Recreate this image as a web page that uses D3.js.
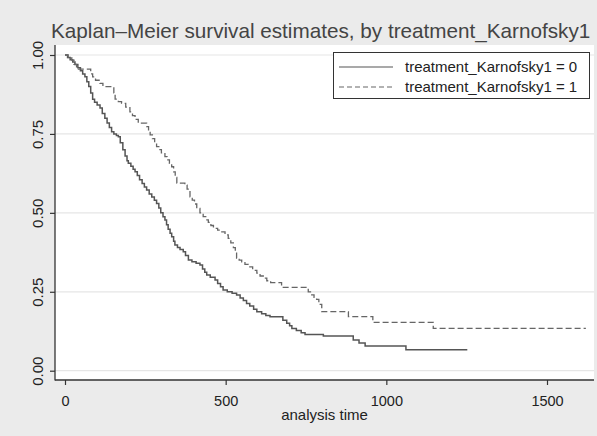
<!DOCTYPE html>
<html><head><meta charset="utf-8">
<script src="https://cdn.jsdelivr.net/npm/d3@7"></script>
<style>
html,body{margin:0;padding:0;background:#ebebeb;}
svg{display:block;}
text{font-family:"Liberation Sans",Arial,sans-serif;}
</style></head>
<body>
<svg id="chart" width="597" height="436"></svg>
<script>
const titleText = "Kaplan\u2013Meier survival estimates, by treatment_Karnofsky1";
const xLabel = "analysis time";
const seriesNames = ["treatment_Karnofsky1 = 0", "treatment_Karnofsky1 = 1"];
const xTicks = [0, 500, 1000, 1500];
const yTicks = [0, 0.25, 0.5, 0.75, 1];

// group 0 (solid): step times and survival after each step
const g0Times = [0,8,16,24,31,40,48,55,62,68,74,80,86,92,100,109,116,124,131,138,145,152,160,166,172,180,187,193,197,205,212,218,225,232,240,247,254,262,270,278,285,292,298,305,311,316,321,327,332,338,342,350,358,368,375,384,395,408,420,428,435,441,452,467,475,484,492,505,520,534,545,555,565,575,587,597,612,625,638,678,690,699,706,720,735,747,804,897,915,934,1061];
const g0Surv  = [1.000,0.992,0.985,0.978,0.970,0.960,0.950,0.940,0.931,0.915,0.900,0.880,0.860,0.850,0.842,0.832,0.815,0.800,0.785,0.770,0.757,0.750,0.745,0.741,0.722,0.700,0.680,0.665,0.657,0.648,0.638,0.630,0.618,0.605,0.593,0.582,0.572,0.560,0.550,0.540,0.530,0.515,0.500,0.488,0.477,0.462,0.448,0.435,0.424,0.410,0.398,0.390,0.384,0.377,0.365,0.351,0.345,0.340,0.335,0.322,0.312,0.303,0.296,0.287,0.276,0.266,0.256,0.250,0.245,0.240,0.230,0.222,0.213,0.205,0.195,0.187,0.180,0.175,0.171,0.160,0.150,0.142,0.134,0.127,0.120,0.115,0.110,0.097,0.088,0.078,0.066];
const g0End = 1252;

// group 1 (dashed)
const g1Times = [0,10,21,28,36,80,86,95,109,118,152,156,166,176,189,202,210,218,228,254,260,265,272,279,285,292,300,311,318,325,332,338,343,348,373,380,389,396,403,410,420,430,438,446,454,462,475,488,498,508,516,524,530,534,542,550,560,570,584,597,607,617,628,640,674,757,764,775,783,790,799,882,958,1146];
const g1Surv  = [1.000,0.992,0.984,0.970,0.955,0.940,0.931,0.920,0.910,0.900,0.880,0.860,0.852,0.847,0.835,0.820,0.808,0.796,0.784,0.773,0.760,0.747,0.735,0.722,0.710,0.700,0.690,0.678,0.668,0.657,0.646,0.630,0.612,0.594,0.588,0.575,0.551,0.540,0.528,0.514,0.500,0.488,0.478,0.470,0.460,0.451,0.445,0.440,0.430,0.419,0.405,0.390,0.375,0.356,0.350,0.345,0.337,0.329,0.318,0.309,0.300,0.293,0.285,0.279,0.264,0.250,0.240,0.232,0.226,0.210,0.187,0.171,0.153,0.134];
const g1End = 1621;

const svg = d3.select("#chart");
const W = 597, H = 436;
svg.append("rect").attr("width", W).attr("height", H).attr("fill", "#ebebeb");

const plot = {left: 55, right: 594, top: 45, bottom: 380};
const x = d3.scaleLinear().domain([0, 1500]).range([65, 547]);
const y = d3.scaleLinear().domain([0, 1]).range([370.7, 55]);

svg.append("rect").attr("x", plot.left).attr("y", plot.top)
  .attr("width", plot.right - plot.left).attr("height", plot.bottom - plot.top)
  .attr("fill", "#ffffff");

// gridlines
svg.append("g").selectAll("line").data(yTicks).join("line")
  .attr("x1", plot.left).attr("x2", plot.right)
  .attr("y1", d => y(d)).attr("y2", d => y(d))
  .attr("stroke", "#e6e6e6").attr("stroke-width", 1.2);

// curves
function stepData(times, surv, end) {
  const pts = times.map((t, i) => [t, surv[i]]);
  pts.push([end, surv[surv.length - 1]]);
  return pts;
}
const line = d3.line().x(d => x(d[0])).y(d => y(d[1])).curve(d3.curveStepAfter);

svg.append("path").datum(stepData(g0Times, g0Surv, g0End))
  .attr("d", line).attr("fill", "none").attr("stroke", "#555555").attr("stroke-width", 1.5);
svg.append("path").datum(stepData(g1Times, g1Surv, g1End))
  .attr("d", line).attr("fill", "none").attr("stroke", "#666666").attr("stroke-width", 1.3)
  .attr("stroke-dasharray", "6,3");

// axes
const yAxis = svg.append("g").attr("transform", `translate(${plot.left},0)`)
  .call(d3.axisLeft(y).tickValues(yTicks).tickFormat(d3.format(".2f")).tickSize(5).tickSizeOuter(0));
yAxis.select(".domain").remove();
yAxis.selectAll(".tick line").attr("stroke", "#333").attr("stroke-width", 1.2);
yAxis.selectAll(".tick text")
  .attr("x", null).attr("dy", null)
  .attr("transform", "translate(-12,0) rotate(-90)")
  .attr("text-anchor", "middle")
  .attr("font-size", 15).attr("fill", "#222")
  .attr("font-family", "Liberation Sans, Arial, sans-serif");

const xAxis = svg.append("g").attr("transform", `translate(0,${plot.bottom})`)
  .call(d3.axisBottom(x).tickValues(xTicks).tickFormat(d3.format("d")).tickSize(5).tickSizeOuter(0));
xAxis.select(".domain").remove();
xAxis.selectAll(".tick line").attr("stroke", "#333").attr("stroke-width", 1.2);
xAxis.selectAll(".tick text").attr("y", 26).attr("dy", null)
  .attr("font-size", 14.5).attr("fill", "#222")
  .attr("font-family", "Liberation Sans, Arial, sans-serif");

svg.append("line").attr("x1", plot.left).attr("x2", plot.left)
  .attr("y1", plot.top).attr("y2", plot.bottom + 0.5)
  .attr("stroke", "#333").attr("stroke-width", 1.3);
svg.append("line").attr("x1", plot.left).attr("x2", plot.right)
  .attr("y1", plot.bottom).attr("y2", plot.bottom)
  .attr("stroke", "#333").attr("stroke-width", 1.3);

// axis title
svg.append("text").attr("x", (plot.left + plot.right) / 2).attr("y", 420)
  .attr("text-anchor", "middle").attr("font-size", 15).attr("fill", "#222").text(xLabel);

// title
svg.append("text").attr("x", 51).attr("y", 38)
  .attr("font-size", 20.7).attr("fill", "#444").text(titleText);

// legend
const lg = svg.append("g");
lg.append("rect").attr("x", 333.5).attr("y", 52.5).attr("width", 256).attr("height", 46)
  .attr("fill", "#fff").attr("stroke", "#333").attr("stroke-width", 1);
const styles = [{dash: null, c: "#555"}, {dash: "5,3", c: "#666"}];
seriesNames.forEach((name, i) => {
  const yy = 67 + i * 20;
  lg.append("line").attr("x1", 339).attr("x2", 393).attr("y1", yy).attr("y2", yy)
    .attr("stroke", styles[i].c).attr("stroke-width", 1.2)
    .attr("stroke-dasharray", styles[i].dash);
  lg.append("text").attr("x", 405).attr("y", yy + 5).attr("font-size", 15)
    .attr("fill", "#222").text(name);
});
</script>
</body></html>
